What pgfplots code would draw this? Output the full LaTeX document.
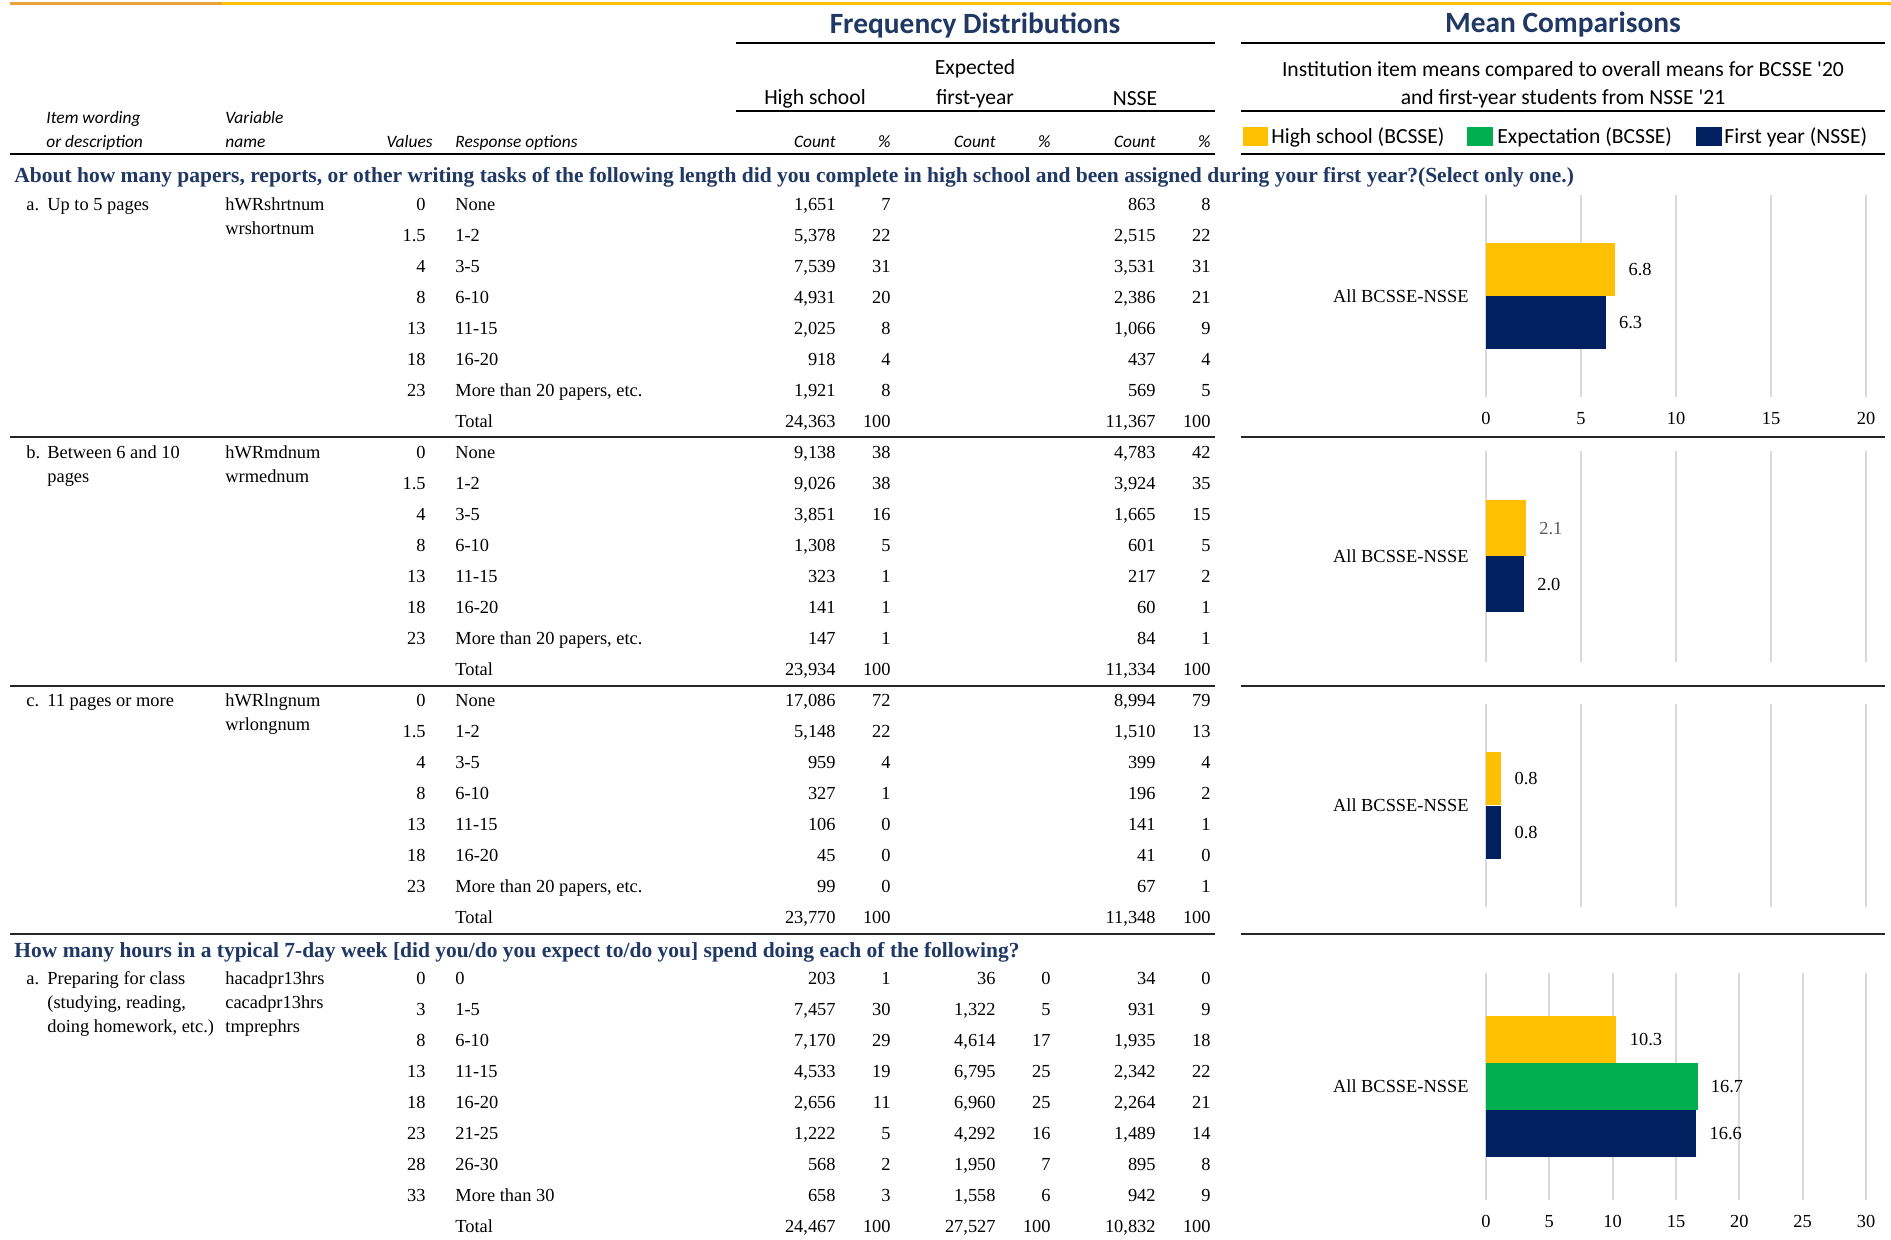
\documentclass[border=0pt]{standalone}
\usepackage{pgfplots}
\pgfplotsset{compat=1.18}
\usepackage{fontspec}
\setmainfont{Liberation Serif}
\newfontfamily\calib{Carlito}
\definecolor{hsy}{HTML}{FFC000}
\definecolor{exg}{HTML}{00B050}
\definecolor{fyn}{HTML}{002060}
\definecolor{hblue}{HTML}{1F3864}
\definecolor{gridg}{HTML}{D9D9D9}
\definecolor{topo}{HTML}{E8A33A}
\newcommand\fs[1]{\fontsize{#1}{#1}\selectfont}

% one table row: y, value, option, HS count, HS %, exp count, exp %, NSSE count, NSSE %
\newcommand\rw[9]{%
  \node[r] at (426,#1) {#2};
  \node[l] at (455,#1) {#3};
  \node[r] at (836,#1) {#4};
  \node[r] at (891,#1) {#5};
  \node[r] at (996,#1) {#6};
  \node[r] at (1051,#1) {#7};
  \node[r] at (1156,#1) {#8};
  \node[r] at (1211,#1) {#9};}

\pgfplotsset{mc/.style={
  xbar, scale only axis, width=190pt, xmin=0,
  ymin=-1, ymax=1, ytick={0}, yticklabels={All BCSSE-NSSE},
  axis line style={draw=none}, major tick length=0pt,
  xmajorgrids, grid style={draw=gridg, line width=0.9pt},
  /pgf/number format/assume math mode=true,
  tick label style={font=\fs{9.2}},
  yticklabel style={inner sep=0pt, xshift=-8.5pt},
  xticklabel style={inner sep=0pt, yshift=-7.4pt},
  point meta=x,
  nodes near coords={\pgfmathprintnumber[fixed,fixed zerofill,precision=1]{\pgfplotspointmeta}},
  every node near coord/.append style={font=\fs{9.2}, anchor=west, inner sep=0pt, xshift=6.5pt, text=black},
  anchor=south west, clip=false,
}}

\begin{document}
\begin{tikzpicture}
\begin{scope}[x=0.5pt, y=-0.5pt,
  tx/.style={font=\fs{9.2}, inner sep=0pt, yshift=-0.75pt},
  r/.style={tx, anchor=mid east},
  l/.style={tx, anchor=mid west},
  ci/.style={font=\calib\itshape\fs{8.7}, inner sep=0pt, yshift=-1pt},
  cr/.style={font=\calib\fs{10.8}, inner sep=0pt},
  hd/.style={font=\bfseries\fs{10.75}, text=hblue, inner sep=0pt, anchor=mid west}]
\useasboundingbox (0,0) rectangle (1891,1240);

% top rule
\draw[topo, line width=1.5pt] (10,4) -- (222,4);
\draw[hsy, line width=1.5pt] (222,4) -- (1891,4);

% titles
\node[font=\calib\bfseries\fs{14.7}, text=hblue, inner sep=0pt] at (975,25) {Frequency Distributions};
\node[font=\calib\bfseries\fs{14.7}, text=hblue, inner sep=0pt] at (1563,25) {Mean Comparisons};
\foreach \yy in {43,111} {
  \draw[line width=0.6pt] (736,\yy) -- (1215,\yy);
  \draw[line width=0.6pt] (1241,\yy) -- (1885,\yy);
}
\node[cr] at (815,99) {High school};
\node[cr] at (975,69) {Expected};
\node[cr] at (975,99) {first-year};
\node[cr] at (1135,99) {NSSE};
\node[cr] at (1563,71) {Institution item means compared to overall means for BCSSE \textquotesingle 20};
\node[cr] at (1563,99) {and first-year students from NSSE \textquotesingle 21};

% legend
\fill[hsy] (1243,127) rectangle (1268,146);
\fill[exg] (1467,127) rectangle (1493,146);
\fill[fyn] (1696,127) rectangle (1722,146);
\node[cr, anchor=mid west] at (1271,139) {High school (BCSSE)};
\node[cr, anchor=mid west] at (1497,139) {Expectation (BCSSE)};
\node[cr, anchor=mid west] at (1724,139) {First year (NSSE)};

% column headers
\node[ci, anchor=mid west] at (46,117) {Item wording};
\node[ci, anchor=mid west] at (46,141) {or description};
\node[ci, anchor=mid west] at (225,117) {Variable};
\node[ci, anchor=mid west] at (225,141) {name};
\node[ci, anchor=mid east] at (433,141) {Values};
\node[ci, anchor=mid west] at (455,141) {Response options};
\foreach \xx/\tt in {836/Count,891/\%,996/Count,1051/\%,1156/Count,1211/\%}
  \node[ci, anchor=mid east] at (\xx,141) {\tt};
\draw[line width=1.3pt] (10,154) -- (1215,154);
\draw[line width=1.3pt] (1241,154) -- (1885,154);

% block separators
\foreach \yy in {437,686,934} {
  \draw[black!85, line width=1pt] (10,\yy) -- (1215,\yy);
  \draw[black!85, line width=1pt] (1241,\yy) -- (1885,\yy);
}

% question 1
\node[hd] at (14,178) {About how many papers, reports, or other writing tasks of the following length did you complete in high school and been assigned during your first year?(Select only one.)};

\node[l] at (26,204) {a.}; \node[l] at (47,204) {Up to 5 pages};
\node[l] at (225,204) {hWRshrtnum}; \node[l] at (225,228) {wrshortnum};
\rw{204}{0}{None}{1,651}{7}{}{}{863}{8}
\rw{235}{1.5}{1-2}{5,378}{22}{}{}{2,515}{22}
\rw{266}{4}{3-5}{7,539}{31}{}{}{3,531}{31}
\rw{297}{8}{6-10}{4,931}{20}{}{}{2,386}{21}
\rw{328}{13}{11-15}{2,025}{8}{}{}{1,066}{9}
\rw{359}{18}{16-20}{918}{4}{}{}{437}{4}
\rw{390}{23}{More than 20 papers, etc.}{1,921}{8}{}{}{569}{5}
\rw{421}{}{Total}{24,363}{100}{}{}{11,367}{100}

\node[l] at (26,452) {b.}; \node[l] at (47,452) {Between 6 and 10}; \node[l] at (47,476) {pages};
\node[l] at (225,452) {hWRmdnum}; \node[l] at (225,476) {wrmednum};
\rw{452}{0}{None}{9,138}{38}{}{}{4,783}{42}
\rw{483}{1.5}{1-2}{9,026}{38}{}{}{3,924}{35}
\rw{514}{4}{3-5}{3,851}{16}{}{}{1,665}{15}
\rw{545}{8}{6-10}{1,308}{5}{}{}{601}{5}
\rw{576}{13}{11-15}{323}{1}{}{}{217}{2}
\rw{607}{18}{16-20}{141}{1}{}{}{60}{1}
\rw{638}{23}{More than 20 papers, etc.}{147}{1}{}{}{84}{1}
\rw{669}{}{Total}{23,934}{100}{}{}{11,334}{100}

\node[l] at (26,700) {c.}; \node[l] at (47,700) {11 pages or more};
\node[l] at (225,700) {hWRlngnum}; \node[l] at (225,724) {wrlongnum};
\rw{700}{0}{None}{17,086}{72}{}{}{8,994}{79}
\rw{731}{1.5}{1-2}{5,148}{22}{}{}{1,510}{13}
\rw{762}{4}{3-5}{959}{4}{}{}{399}{4}
\rw{793}{8}{6-10}{327}{1}{}{}{196}{2}
\rw{824}{13}{11-15}{106}{0}{}{}{141}{1}
\rw{855}{18}{16-20}{45}{0}{}{}{41}{0}
\rw{886}{23}{More than 20 papers, etc.}{99}{0}{}{}{67}{1}
\rw{917}{}{Total}{23,770}{100}{}{}{11,348}{100}

% question 2
\node[hd] at (14,953) {How many hours in a typical 7-day week [did you/do you expect to/do you] spend doing each of the following?};
\node[l] at (26,978) {a.}; \node[l] at (47,978) {Preparing for class};
\node[l] at (47,1002) {(studying, reading,}; \node[l] at (47,1026) {doing homework, etc.)};
\node[l] at (225,978) {hacadpr13hrs}; \node[l] at (225,1002) {cacadpr13hrs}; \node[l] at (225,1026) {tmprephrs};
\rw{978}{0}{0}{203}{1}{36}{0}{34}{0}
\rw{1009}{3}{1-5}{7,457}{30}{1,322}{5}{931}{9}
\rw{1040}{8}{6-10}{7,170}{29}{4,614}{17}{1,935}{18}
\rw{1071}{13}{11-15}{4,533}{19}{6,795}{25}{2,342}{22}
\rw{1102}{18}{16-20}{2,656}{11}{6,960}{25}{2,264}{21}
\rw{1133}{23}{21-25}{1,222}{5}{4,292}{16}{1,489}{14}
\rw{1164}{28}{26-30}{568}{2}{1,950}{7}{895}{8}
\rw{1195}{33}{More than 30}{658}{3}{1,558}{6}{942}{9}
\rw{1226}{}{Total}{24,467}{100}{27,527}{100}{10,832}{100}
\end{scope}

% mean comparison charts
\begin{axis}[mc, at={(743pt,-198.5pt)}, height=101pt, xmax=20, xtick={0,5,...,20}]
\addplot[fill=hsy, draw=none, bar width=26.5pt, bar shift=13.25pt] coordinates {(6.8,0)};
\addplot[fill=fyn, draw=none, bar width=26.5pt, bar shift=-13.25pt] coordinates {(6.3,0)};
\end{axis}

\begin{axis}[mc, at={(743pt,-331pt)}, height=105.5pt, xmax=20, xtick={0,5,...,20}, xticklabels={}]
\addplot[fill=hsy, draw=none, bar width=28pt, bar shift=14pt,
  every node near coord/.append style={text=black!65}] coordinates {(2.1,0)};
\addplot[fill=fyn, draw=none, bar width=28pt, bar shift=-14pt] coordinates {(2.0,0)};
\end{axis}

\begin{axis}[mc, at={(743pt,-453.5pt)}, height=101.5pt, xmax=20, xtick={0,5,...,20}, xticklabels={}]
\addplot[fill=hsy, draw=none, bar width=26.75pt, bar shift=13.4pt] coordinates {(0.8,0)};
\addplot[fill=fyn, draw=none, bar width=26.75pt, bar shift=-13.4pt] coordinates {(0.8,0)};
\end{axis}

\begin{axis}[mc, at={(743pt,-600pt)}, height=113.5pt, xmax=30, xtick={0,5,...,30}]
\addplot[fill=hsy, draw=none, bar width=23.5pt, bar shift=23.5pt] coordinates {(10.3,0)};
\addplot[fill=exg, draw=none, bar width=23.5pt, bar shift=0pt] coordinates {(16.7,0)};
\addplot[fill=fyn, draw=none, bar width=23.5pt, bar shift=-23.5pt] coordinates {(16.6,0)};
\end{axis}
\end{tikzpicture}
\end{document}
